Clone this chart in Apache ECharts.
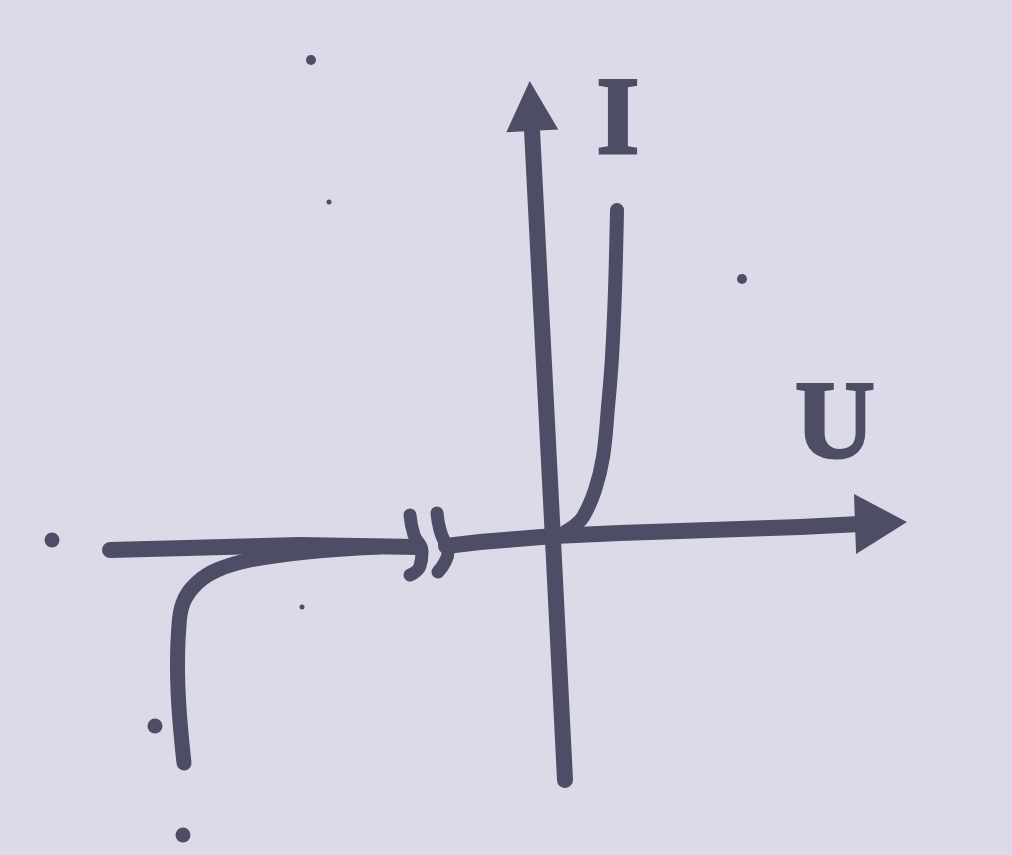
<!DOCTYPE html>
<html>
<head>
<meta charset="utf-8">
<script src="https://cdn.jsdelivr.net/npm/echarts@6/dist/echarts.min.js"></script>
<style>
  html, body { margin: 0; padding: 0; background: #dcdae8; }
  #chart { width: 1012px; height: 855px; }
</style>
</head>
<body>
<div id="chart"></div>
<script>
// ---- data (U, I in arbitrary units) ----
var uAxisLeft = [[-4.44, -0.15], [-2.54, -0.10], [-1.36, -0.12]];
var uAxisRight = [[-1.08, -0.11], [-0.74, -0.07], [0, -0.01], [0.66, 0.02], [2.46, 0.08], [3.06, 0.11]];
var iAxis = [[0.11, -2.45], [-0.01, -0.05], [-0.22, 4.05]];
var breakMark1 = [[-1.44, 0.20], [-1.40, 0.00], [-1.32, -0.17], [-1.34, -0.31], [-1.44, -0.40]];
var breakMark2 = [[-1.17, 0.22], [-1.14, 0.05], [-1.09, -0.08], [-1.06, -0.17], [-1.09, -0.27], [-1.16, -0.37]];
var forwardCurve = [[0.11, 0.03], [0.19, 0.08], [0.29, 0.18], [0.41, 0.45], [0.49, 0.78], [0.54, 1.28], [0.58, 1.78], [0.61, 2.45], [0.63, 3.25]];
var reverseCurve = [[-1.75, -0.12], [-2.47, -0.17], [-3.04, -0.25], [-3.37, -0.35], [-3.57, -0.48], [-3.71, -0.68], [-3.755, -0.98], [-3.765, -1.32], [-3.755, -1.65], [-3.73, -1.98], [-3.70, -2.28]];
var iArrowHead = [[-0.23, 4.29]];
var uArrowHead = [[3.27, 0.12]];
var axisLabels = ['I', 'U'];
var labelPoints = [[0.64, 4.10], [2.81, 1.06]];
var bigDots = [[-5.02, -0.05], [-3.99, -1.91], [-3.71, -3.00]];
var midDots = [[-2.43, 4.75], [1.88, 2.56]];
var smallDots = [[-2.25, 3.33], [-2.52, -0.72]];

var INK = '#4e4d66';
function lineSeries(data, width, smooth) {
  return {
    type: 'line', data: data, showSymbol: false, symbol: 'none', smooth: smooth,
    lineStyle: { color: INK, width: width, cap: 'round', join: 'round', opacity: 1 },
    silent: true, z: 3
  };
}
function dotSeries(data, size) {
  return { type: 'scatter', data: data, symbol: 'circle', symbolSize: size,
           itemStyle: { color: INK, opacity: 1 }, silent: true, z: 2 };
}

var chart = echarts.init(document.getElementById('chart'));
chart.setOption({
  animation: false,
  backgroundColor: '#dcdae8',
  grid: { left: 0, right: 0, top: 0, bottom: 0 },
  xAxis: { type: 'value', min: -5.54, max: 4.58, show: false },
  yAxis: { type: 'value', min: -3.2, max: 5.35, show: false },
  series: [
    lineSeries(uAxisLeft, 16, false),
    lineSeries(uAxisRight, 16, false),
    lineSeries(iAxis, 16, false),
    lineSeries(breakMark1, 13, 0.5),
    lineSeries(breakMark2, 13, 0.5),
    lineSeries(forwardCurve, 14, 0.4),
    lineSeries(reverseCurve, 15, 0.4),
    { type: 'scatter', data: iArrowHead, symbol: 'triangle', symbolSize: [52, 50], symbolRotate: 3,
      itemStyle: { color: INK, opacity: 1 }, silent: true, z: 4 },
    { type: 'scatter', data: uArrowHead, symbol: 'triangle', symbolSize: [60, 52], symbolRotate: -88,
      itemStyle: { color: INK, opacity: 1 }, silent: true, z: 4 },
    { type: 'scatter', symbol: 'circle', symbolSize: 1,
      itemStyle: { color: 'rgba(0,0,0,0)', opacity: 1 },
      data: labelPoints.map(function (p, i) { return { name: axisLabels[i], value: p }; }),
      label: { show: true, position: 'inside', formatter: '{b}', color: INK, opacity: 1,
               textBorderColor: INK, textBorderWidth: 3,
               fontFamily: 'Liberation Serif', fontWeight: 'bold', fontSize: 110 },
      silent: true, z: 5 },
    dotSeries(bigDots, 15),
    dotSeries(midDots, 10),
    dotSeries(smallDots, 5)
  ]
});
</script>
</body>
</html>
